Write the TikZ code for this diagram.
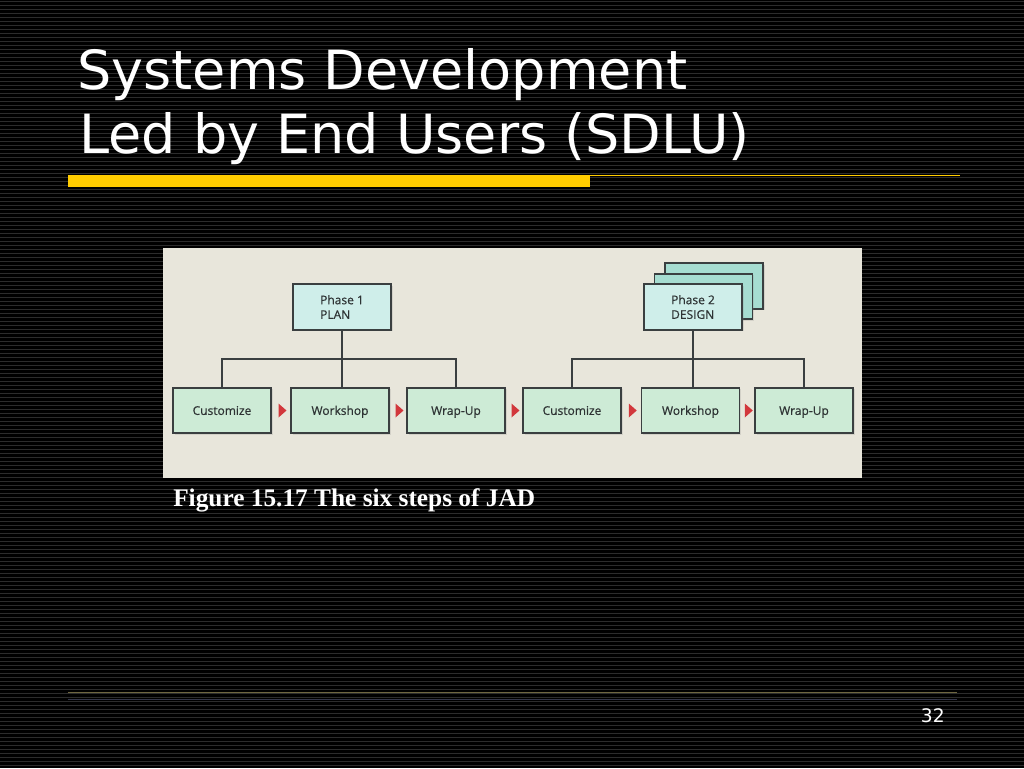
\documentclass[tikz,border=0pt]{standalone}
\usepackage{fontspec}
\setmainfont{DejaVu Sans}
\newfontfamily\boxfont[FakeBold=0.5]{Open Sans}
\newfontfamily\capfont{Liberation Serif}
\usetikzlibrary{shapes.geometric,shadows,calc}
\definecolor{stripegray}{HTML}{2C2C2C}
\definecolor{baryellow}{HTML}{FFCC00}
\definecolor{panelbg}{HTML}{E8E6DB}
\definecolor{stepfill}{HTML}{CDEBD6}
\definecolor{phasefill}{HTML}{CFEEEA}
\definecolor{stackfill}{HTML}{A6DDD1}
\definecolor{boxline}{HTML}{3A3F40}
\definecolor{boxtext}{HTML}{2E3334}
\definecolor{tipred}{HTML}{D2373C}
\definecolor{footline}{HTML}{6E6640}
\definecolor{footblue}{HTML}{34364A}

\begin{document}
\begin{tikzpicture}[x=0.75pt,y=-0.75pt,
  stripe/.style={draw=stripegray,line width=0.75pt},
  titletext/.style={text=white,inner sep=0pt,anchor=base west,
    font=\fontsize{40.5}{48}\selectfont},
  stepbox/.style={draw=boxline,line width=1.3pt,fill=stepfill,
    minimum width=73.5pt,minimum height=34pt,inner sep=0pt,
    text height=1.6ex,text depth=.4ex,
    font=\boxfont\fontsize{9}{11}\selectfont,text=boxtext,
    drop shadow={shadow xshift=1.2pt,shadow yshift=-1.2pt,opacity=.2}},
  phasebox/.style={stepbox,fill=phasefill,align=left,
    text height={},text depth={}},
  stackbox/.style={stepbox,fill=stackfill},
  link/.style={draw=boxline,line width=1.2pt},
  redtip/.style={fill=tipred}]

  \useasboundingbox (0,0) rectangle (1024,768);

  % Striped background
  \fill[black] (0,0) rectangle (1024,768);
  \foreach \y in {1,5,...,765} {
    \draw[stripe] (0,\y) -- (1024,\y);
  }

  % Title and rule
  \node[titletext] (ttl1) at (77,89) {Systems Development};
  \node[titletext] (ttl2) at (79,153) {Led by End Users (SDLU)};
  \fill[baryellow] (68,175) rectangle (590,187);
  \draw[baryellow,line width=0.75pt] (590,175.5) -- (960,175.5);

  % Figure panel
  \fill[panelbg] (163,248) rectangle (862,478);

  % Phase boxes
  \node[phasebox] (ph1) at (342,307) {Phase 1\\PLAN};
  \node[stackbox] (ph2b) at (714,286) {};
  \node[stackbox] (ph2a) at (703.5,296.5) {};
  \node[phasebox] (ph2) at (693,307) {Phase 2\\DESIGN};

  % Step boxes
  \foreach \n/\x/\t in {cu1/222/Customize, ws1/340/Workshop, wu1/456/Wrap-Up,
                        cu2/572/Customize, ws2/690.5/Workshop, wu2/804/Wrap-Up} {
    \node[stepbox] (\n) at (\x,410.5) {\t};
  }

  % Tree links
  \coordinate (bar1) at (342,359);
  \coordinate (bar2) at (693,359);
  \draw[link] (ph1.south) -- (ph1.south |- ws1.north);
  \draw[link] (cu1.north) |- (bar1) -| (wu1.north);
  \draw[link] (ph2.south) -- (ph2.south |- ws2.north);
  \draw[link] (cu2.north) |- (bar2) -| (wu2.north);

  % Step markers
  \foreach \a/\b in {cu1/ws1, ws1/wu1, wu1/cu2, cu2/ws2, ws2/wu2} {
    \fill[redtip] ($(\a.east)!0.5!(\b.west)$) ++(-2.5,-7) -- ++(8,7) -- ++(-8,7) -- cycle;
  }

  % Caption
  \node[text=white,inner sep=0pt,anchor=base west,
    font=\capfont\bfseries\fontsize{19}{22}\selectfont] (cap) at (173,506)
    {Figure 15.17 The six steps of JAD};

  % Footer
  \draw[footline,line width=0.75pt] (68,692) -- (957,692);
  \draw[footblue,line width=0.75pt] (68,699) -- (957,699);
  \node[text=white,inner sep=0pt,anchor=base east,
    font=\fontsize{14}{16}\selectfont] (pg) at (945,722) {32};
\end{tikzpicture}
\end{document}
